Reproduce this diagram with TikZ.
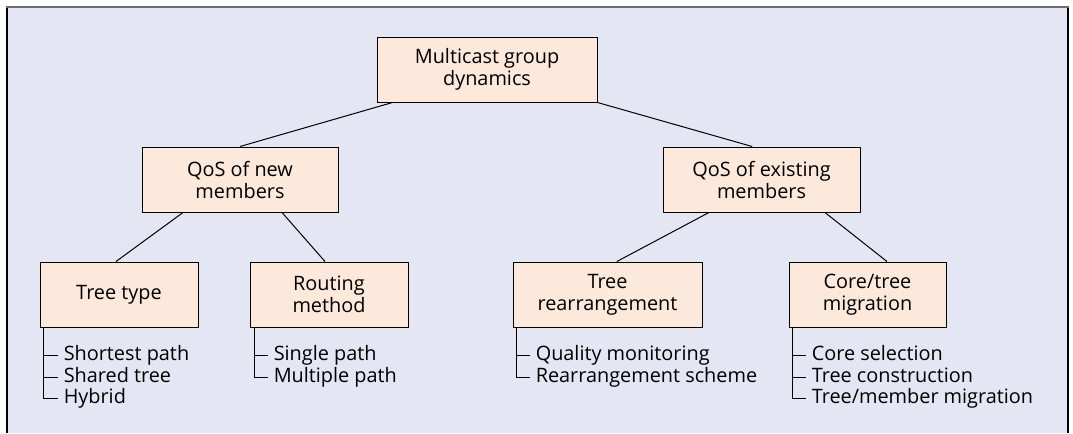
\documentclass[tikz,border=0pt]{standalone}
\usepackage{fontspec}
\setmainfont{Open Sans}
\usepackage{tikz}
\usetikzlibrary{positioning}
\definecolor{panelbg}{RGB}{228,231,243}
\definecolor{boxfill}{RGB}{253,232,220}
\definecolor{rulegray}{RGB}{110,110,110}

\begin{document}
\begin{tikzpicture}[
        x=0.75pt, y=-0.75pt,
        every node/.style={font=\fontsize{14.9}{16.5}\selectfont},
        topic/.style={rectangle, draw, line width=0.75pt, fill=boxfill, align=center, inner sep=0pt, minimum height=48.75pt},
        item/.style={inner xsep=4.5pt, inner ysep=0pt, text height=11.5pt, text depth=4.25pt},
        link/.style={line width=0.75pt},
        bullet/.style={line width=0.75pt}
    ]
    \useasboundingbox (0,0) rectangle (1073,433);

    % panel
    \fill[panelbg] (7,7) rectangle (1068,433);
    \draw[line width=1pt] (7,7) -- (7,433);
    \draw[line width=1pt] (1068,7) -- (1068,433);
    \draw[rulegray, line width=1.6pt] (6,7) -- (1069,7);

    % topics
    \node[topic, minimum width=165pt] (root) at (487,69.5) {Multicast group\\dynamics};
    \node[topic, minimum width=147pt] (qnew) at (240,179.5) {QoS of new\\members};
    \node[topic, minimum width=147.75pt] (qex) at (761.5,179.5) {QoS of existing\\members};
    \node[topic, minimum width=118.5pt] (ttype) at (119,294.5) {Tree type};
    \node[topic, minimum width=118.5pt] (rmeth) at (329,294.5) {Routing\\method};
    \node[topic, minimum width=141.75pt] (trearr) at (607.5,294.5) {Tree\\rearrangement};
    \node[topic, minimum width=117.75pt] (cmig) at (867.5,294.5) {Core/tree\\migration};

    % links
    \draw[link] ([xshift=12pt]root.south west) -- (qnew.north);
    \draw[link] (root.south east) -- ([xshift=-7pt]qex.north);
    \draw[link] ([xshift=-42.75pt]qnew.south) -- ([xshift=-2.25pt]ttype.north);
    \draw[link] ([xshift=31.5pt]qnew.south) -- ([xshift=-3pt]rmeth.north);
    \draw[link] ([xshift=-39.4pt]qex.south) -- ([xshift=7pt]trearr.north);
    \draw[link] ([xshift=47.6pt]qex.south) -- ([xshift=14.6pt]cmig.north);

    % lists
    \node[item, anchor=base west] (tt1) at ([shift={(18,33)}]ttype.south west) {Shortest path};
    \node[item, below=0pt of tt1.south west, anchor=north west] (tt2) {Shared tree};
    \node[item, below=0pt of tt2.south west, anchor=north west] (tt3) {Hybrid};
    \foreach \i in {1,2,3}
        \draw[bullet] ([xshift=3pt]ttype.south west) |- (tt\i.west);

    \node[item, anchor=base west] (rm1) at ([shift={(18,33)}]rmeth.south west) {Single path};
    \node[item, below=0pt of rm1.south west, anchor=north west] (rm2) {Multiple path};
    \foreach \i in {1,2}
        \draw[bullet] ([xshift=3.75pt]rmeth.south west) |- (rm\i.west);

    \node[item, anchor=base west] (tr1) at ([shift={(17,33)}]trearr.south west) {Quality monitoring};
    \node[item, below=0pt of tr1.south west, anchor=north west] (tr2) {Rearrangement scheme};
    \foreach \i in {1,2}
        \draw[bullet] ([xshift=3pt]trearr.south west) |- (tr\i.west);

    \node[item, anchor=base west] (cm1) at ([shift={(17,33)}]cmig.south west) {Core selection};
    \node[item, below=0pt of cm1.south west, anchor=north west] (cm2) {Tree construction};
    \node[item, below=0pt of cm2.south west, anchor=north west] (cm3) {Tree/member migration};
    \foreach \i in {1,2,3}
        \draw[bullet] ([xshift=3pt]cmig.south west) |- (cm\i.west);

\end{tikzpicture}
\end{document}
